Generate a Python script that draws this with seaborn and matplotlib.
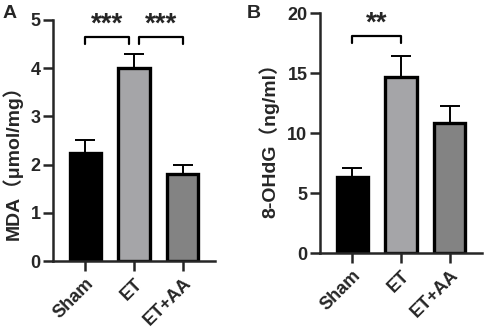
import numpy as np
import pandas as pd
import seaborn as sns
import matplotlib.pyplot as plt

# values
groups = ["Sham", "ET", "ET+AA"]
mda_mean = [2.25, 4.00, 1.81]
mda_err = [0.26, 0.30, 0.18]
ohdg_mean = [6.3, 14.7, 10.8]
ohdg_err = [0.8, 1.7, 1.45]
bar_colors = ["#000000", "#a4a4a9", "#838383"]

sns.set_style("ticks")
plt.rcParams['font.family'] = ['Liberation Sans', 'Noto Sans CJK SC', 'DejaVu Sans']
plt.rcParams['font.weight'] = 'bold'
plt.rcParams['axes.labelweight'] = 'bold'


def draw_panel(ax, means, errs, ylim, yticks, ylabel):
    df = pd.DataFrame({"group": groups, "value": means})
    sns.barplot(data=df, x="group", y="value", hue="group", palette=bar_colors,
                legend=False, width=0.64, edgecolor="black", linewidth=2.4,
                errorbar=None, ax=ax)
    # upward-only error bars
    ax.errorbar(np.arange(len(groups)), means, yerr=[[0] * len(errs), errs],
                fmt="none", ecolor="black", elinewidth=1.4, capsize=7,
                capthick=1.4, zorder=1)
    ax.set_xlim(-0.67, 2.67)
    ax.set_ylim(*ylim)
    ax.set_yticks(yticks, [str(t) for t in yticks], fontweight="bold")
    ax.set_xticks(range(len(groups)), groups, rotation=45, ha="right",
                  rotation_mode="anchor", fontweight="bold")
    ax.set_xlabel("")
    ax.set_ylabel(ylabel, fontsize=14, fontweight="bold")
    ax.tick_params(axis="both", width=1.8, length=7, labelsize=13, pad=2)
    ax.tick_params(axis="x", pad=3)
    for s in ["left", "bottom"]:
        ax.spines[s].set_linewidth(1.8)
    sns.despine(ax=ax)


def bracket(ax, x1, x2, y, h, label):
    ax.plot([x1, x1, x2, x2], [y - h, y, y, y - h], color="black", lw=1.6,
            clip_on=False)
    ax.text((x1 + x2) / 2, y - h * 0.1, label, ha="center", va="bottom",
            fontsize=20, fontweight="bold", clip_on=False)


fig = plt.figure(figsize=(4.84, 3.34), dpi=100)
ax1 = fig.add_axes([53 / 484, 1 - 261 / 334, 162 / 484, 241 / 334])
ax2 = fig.add_axes([320 / 484, 1 - 253 / 334, 162 / 484, 240 / 334])

draw_panel(ax1, mda_mean, mda_err, (0, 5), [0, 1, 2, 3, 4, 5], "MDA（μmol/mg）")
draw_panel(ax2, ohdg_mean, ohdg_err, (0, 20), [0, 5, 10, 15, 20], "8-OHdG（ng/ml）")

bracket(ax1, 0, 0.9, 4.64, 0.14, "***")
bracket(ax1, 1.1, 2.0, 4.64, 0.14, "***")
bracket(ax2, 0, 1.0, 18.1, 0.6, "**")

ax1.yaxis.set_label_coords(-0.185, 0.43)
ax2.yaxis.set_label_coords(-0.25, 0.49)

fig.text(3 / 484, 1 - 14 / 334, "A", fontsize=14, fontweight="bold", va="center")
fig.text(247 / 484, 1 - 14 / 334, "B", fontsize=14, fontweight="bold", va="center")

fig.savefig("out.png", dpi=100)
